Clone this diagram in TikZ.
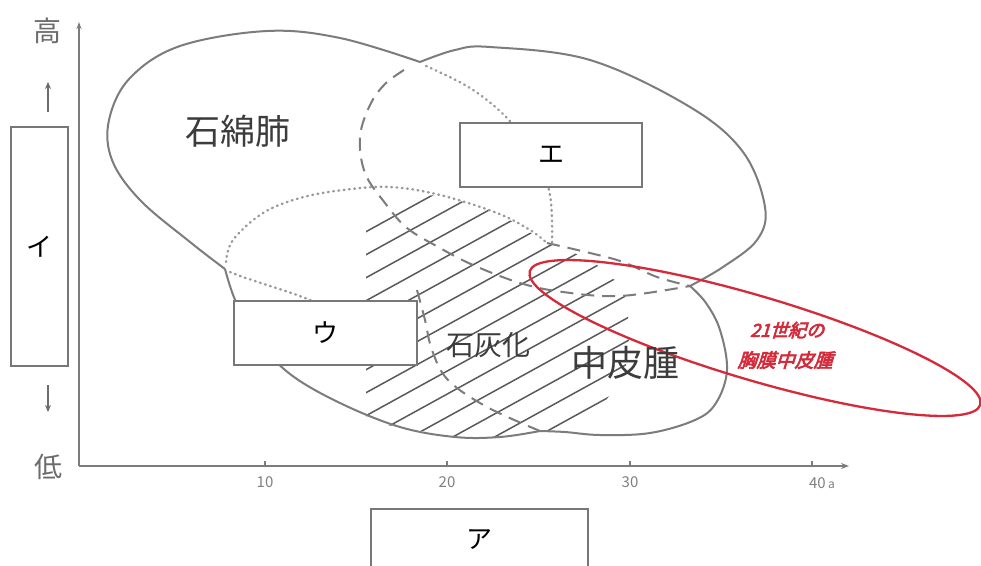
\documentclass[tikz,border=0pt]{standalone}
\usepackage{fontspec}
\setmainfont{Noto Sans CJK JP}
\newfontfamily\redfont[FakeBold=3.5,FakeSlant=0.3]{Noto Sans CJK JP}
\usetikzlibrary{arrows.meta}
\definecolor{outc}{HTML}{7C7C7C}
\definecolor{hatc}{HTML}{5A5A5A}
\definecolor{dotc}{HTML}{999999}
\definecolor{txtc}{HTML}{3C3C3C}
\definecolor{redc}{HTML}{D42A3A}
\definecolor{boxc}{HTML}{777777}
\begin{document}
\begin{tikzpicture}[x=1pt,y=-1pt,
  outline/.style={draw=outc,line width=2pt,line join=round},
  dashline/.style={draw=outc,line width=2pt,dash pattern=on 13pt off 8pt},
  dotline/.style={draw=dotc,line width=2.4pt,dash pattern=on 0.8pt off 4.5pt,line cap=round},
  hatchline/.style={draw=hatc,line width=1.5pt},
  labelbox/.style={draw=boxc,line width=1.3pt,fill=white,inner sep=0pt,font=\fontsize{26}{30}\selectfont,text=black},
  axisline/.style={draw=outc,line width=2pt},
  ticklabel/.style={text=gray,font=\fontsize{15}{17}\selectfont},
  graytext/.style={text=txtc}
]
\useasboundingbox (0,0) rectangle (981,565);
\fill[white] (0,0) rectangle (981,565);

% hatching
\begin{scope}
\clip (366,422) -- (366,215) -- (392,197) -- (440,195) -- (497,212) -- (547,243) -- (590,259) -- (624,288) -- (630,330) -- (625,375) -- (600,408) -- (560,430) -- (500,437) -- (455,437) -- (400,427) -- cycle;
\foreach \c in {410,433,...,800} \draw[hatchline] (340,{\c-187}) -- (660,{\c-363});
\end{scope}

% outline
\coordinate (dip) at (420,62);
\coordinate (notch) at (225,269);
\coordinate (junc) at (690,286);
\coordinate (cusp) at (540,431);
\draw[outline] plot[smooth,tension=0.6] coordinates {(dip) (455,50) (490,47) (590,60) (690,107) (743,152) (765,207) (757,240) (723,267) (junc)};
\draw[outline] plot[smooth,tension=0.6] coordinates {(junc) (706,303) (720,330) (727,370) (716,403) (695,420) (650,433) (600,435) (565,432) (cusp)};
\draw[outline] plot[smooth,tension=0.6] coordinates {(cusp) (500,437) (455,437) (400,427) (340,403) (290,374) (258,340) (236,302) (notch)};
\draw[outline] plot[smooth,tension=0.6] coordinates {(notch) (190,242) (140,200) (112,160) (109,120) (130,78) (180,46) (267,31) (340,38) (dip)};

% inner boundaries
\draw[dashline] plot[smooth,tension=0.6] coordinates {(404,70) (385,84) (370,105) (360,137) (365,173) (385,203) (407,228) (440,248) (473,265) (520,283) (563,292) (620,296) (junc)};
\draw[dashline] plot[smooth,tension=0.6] coordinates {(547,243) (590,253) (623,262) (657,277) (junc)};
\draw[dashline] plot[smooth,tension=0.6] coordinates {(417,290) (425,320) (432,350) (448,380) (487,407) (cusp)};
\draw[dotline] plot[smooth,tension=0.6] coordinates {(226,262) (233,240) (263,213) (300,198) (343,190) (390,187) (440,195) (497,213) (530,230) (547,243)};
\draw[dotline] plot[smooth,tension=0.6] coordinates {(426,66) (470,88) (507,118) (535,155) (550,195) (552,243)};
\draw[dotline] plot[smooth,tension=0.6] coordinates {(230,272) (243,277) (267,285) (297,295) (330,308)};

% red ellipse
\draw[redc,line width=2.3pt,rotate around={-16.5:(755,338)}] (755,338) ellipse [x radius=235, y radius=42];
\node[text=redc,font=\redfont\fontsize{18}{20}\selectfont] (r1) at (787,330) {21世紀の};
\node[text=redc,font=\redfont\fontsize{19}{21}\selectfont] (r2) at (785,360) {胸膜中皮腫};

% region labels
\node[graytext,font=\fontsize{35}{40}\selectfont] (asb) at (238,131) {石綿肺};
\node[graytext,font=\fontsize{28}{32}\selectfont] (calc) at (488,345) {石灰化};
\node[graytext,font=\fontsize{36}{40}\selectfont] (meso) at (625,363) {中皮腫};

% axes
\coordinate (O) at (79,466);
\coordinate (Ytop) at (79,22);
\coordinate (Xend) at (849,466);
\draw[axisline,-{Stealth[length=7pt,width=5pt]}] (O) -- (Ytop);
\draw[axisline,-{Stealth[length=8pt,width=6pt]}] (O) -- (Xend);
\foreach \x in {265,447,630,812} \draw[axisline,line width=1.2pt] (\x,466) -- (\x,461);
\node[ticklabel] (t10) at (265,482) {10};
\node[ticklabel] (t20) at (447,482) {20};
\node[ticklabel] (t30) at (630,482) {30};
\node[ticklabel] (t40) at (822,483) {40\,{\fontsize{12}{13}\selectfont a}};

\node[text=gray!85!black,font=\fontsize{28}{30}\selectfont] (hi) at (47,31) {高};
\node[text=gray!85!black,font=\fontsize{28}{30}\selectfont] (lo) at (48,467) {低};
\coordinate (ua) at (48,112);
\coordinate (ub) at (48,82);
\coordinate (da) at (48,385);
\coordinate (db) at (48,412);
\draw[gray!85!black,line width=1.8pt,-{Stealth[length=7pt,width=6pt]}] (ua) -- (ub);
\draw[gray!85!black,line width=1.8pt,-{Stealth[length=7pt,width=6pt]}] (da) -- (db);

% answer boxes
\node[labelbox,minimum width=57pt,minimum height=239pt] (bi) at (39.5,246.5) {イ};
\node[labelbox,minimum width=182pt,minimum height=64pt] (be) at (551,155) {エ};
\node[labelbox,minimum width=183pt,minimum height=64pt] (bu) at (325.5,333) {ウ};
\node[labelbox,minimum width=217pt,minimum height=61pt] (ba) at (479.5,539.5) {ア};
\end{tikzpicture}
\end{document}
